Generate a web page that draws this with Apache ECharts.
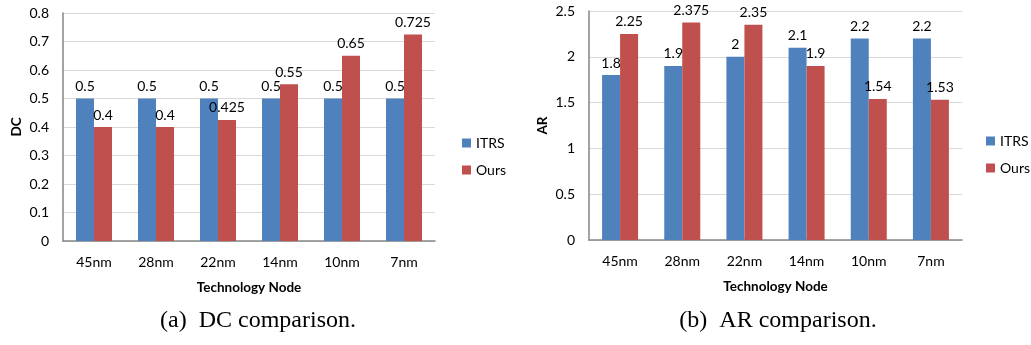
<!DOCTYPE html>
<html><head><meta charset="utf-8">
<script src="https://cdn.jsdelivr.net/npm/echarts@6/dist/echarts.min.js"></script>
<style>html,body{margin:0;padding:0;background:#fff}#c{width:1031px;height:345px}</style>
</head><body><div id="c"></div>
<script>
const categories = ['45nm','28nm','22nm','14nm','10nm','7nm'];
const dcITRS = [0.5,0.5,0.5,0.5,0.5,0.5];
const dcOurs = [0.4,0.4,0.425,0.55,0.65,0.725];
const arITRS = [1.8,1.9,2,2.1,2.2,2.2];
const arOurs = [2.25,2.375,2.35,1.9,1.54,1.53];
const seriesNames = ['ITRS','Ours'];
const captions = ['(a)  DC comparison.','(b)  AR comparison.'];

const FONT = 'Lato';
const BLUE = '#4F81BD', RED = '#C0504D';
const chart = echarts.init(document.getElementById('c'), null, {renderer:'canvas'});
function xAx(gi){return {type:'category',gridIndex:gi,data:categories,
  name:'Technology Node',nameLocation:'middle',nameGap:40,
  nameTextStyle:{fontFamily:FONT,fontWeight:'bold',fontSize:13.5,color:'#000'},
  axisLine:{lineStyle:{color:'#868686',width:1.5}},axisTick:{show:false},
  axisLabel:{fontFamily:FONT,fontSize:14,color:'#000',margin:14}};}
function yAx(gi,name,max,interval,gap){return {type:'value',gridIndex:gi,min:0,max:max,interval:interval,
  name:name,nameLocation:'middle',nameRotate:90,nameGap:gap,
  nameTextStyle:{fontFamily:FONT,fontWeight:'bold',fontSize:13.5,color:'#000'},
  axisLine:{show:true,lineStyle:{color:'#868686',width:1.5}},axisTick:{show:false},
  splitLine:{lineStyle:{color:'#d9d9d9'}},
  axisLabel:{fontFamily:FONT,fontSize:14,color:'#000',margin:14}};}
function bar(name,data,color,gi){return {type:'bar',name:name,data:data,xAxisIndex:gi,yAxisIndex:gi,
  barWidth:18,barGap:'0%',itemStyle:{color:color},
  label:{show:true,position:'top',distance:5,fontFamily:FONT,fontSize:14,color:'#000'}};}
const capStyle = {fontFamily:'Liberation Serif',fontWeight:'normal',fontSize:24,color:'#000'};
chart.setOption({
  animation:false,
  title:[
    {text:captions[0],left:253,top:304,textAlign:'center',textStyle:capStyle},
    {text:captions[1],left:773,top:304,textAlign:'center',textStyle:capStyle}
  ],
  legend:[
    {data:seriesNames,orient:'vertical',left:457,top:131,itemWidth:9,itemHeight:9,itemGap:13,icon:'rect',
     textStyle:{fontFamily:FONT,fontSize:14,color:'#000'},selectedMode:false},
    {data:seriesNames,orient:'vertical',left:981,top:129,itemWidth:9,itemHeight:9,itemGap:13,icon:'rect',
     textStyle:{fontFamily:FONT,fontSize:14,color:'#000'},selectedMode:false}
  ],
  grid:[
    {left:63,right:596,top:13,bottom:104},
    {left:589,right:69,top:11,bottom:105}
  ],
  xAxis:[xAx(0),xAx(1)],
  yAxis:[yAx(0,'DC',0.8,0.1,39),yAx(1,'AR',2.5,0.5,39)],
  series:[bar('ITRS',dcITRS,BLUE,0),bar('Ours',dcOurs,RED,0),bar('ITRS',arITRS,BLUE,1),bar('Ours',arOurs,RED,1)]
});
</script></body></html>
